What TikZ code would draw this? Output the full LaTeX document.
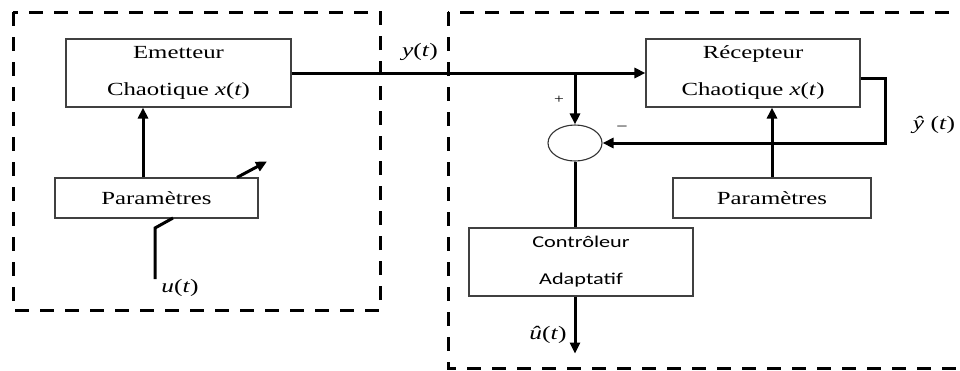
\documentclass[tikz,border=0pt]{standalone}
\usepackage{fontspec}
\setmainfont{Liberation Serif}[FakeStretch=1.34]
\newfontfamily\ctrlfont{Carlito}[FakeStretch=1.35]
\usetikzlibrary{arrows.meta,shapes.geometric}

\tikzset{
  blockbox/.style={draw=black!75, line width=1.1pt, align=center, inner sep=0pt,
    font=\fontsize{18.5}{37}\selectfont},
  sig/.style={line width=3pt, -{Triangle[length=11pt,width=10pt]}},
  wire/.style={line width=3pt},
  frame/.style={line width=3pt, dash pattern=on 14pt off 11pt},
  lbl/.style={inner sep=0pt, font=\fontsize{19}{20}\selectfont}
}
\newcommand{\vt}[1]{\textit{#1}(\textit{t})}

\begin{document}
\begin{tikzpicture}[x=1pt,y=-1pt]
        \useasboundingbox (0,0) rectangle (960,370);

        % Dashed frames (emitter / receiver)
        \draw[frame] (13,12) rectangle (380,310);
        \draw[frame] (448,12) rectangle (980,368);

        % Blocks
        \node[blockbox, minimum width=225pt, minimum height=68pt] (emit) at (178.5,73)
          {Emetteur\\Chaotique \vt{x}};
        \node[blockbox, minimum width=203pt, minimum height=40pt] (paramL) at (156.5,198)
          {Paramètres};
        \node[blockbox, minimum width=214pt, minimum height=68pt] (recv) at (753,73)
          {Récepteur\\Chaotique \vt{x}};
        \node[blockbox, minimum width=198pt, minimum height=40pt] (paramR) at (772,198)
          {Paramètres};
        \node[blockbox, minimum width=224pt, minimum height=68pt,
          font=\ctrlfont\fontsize{16.5}{37}\selectfont] (ctrl) at (581,262)
          {Contrôleur\\Adaptatif};
        \node[draw=black!80, line width=1.1pt, ellipse, minimum width=54pt,
          minimum height=36pt, inner sep=0pt] (sum) at (575,143) {};

        % Anchor points
        \coordinate (br)    at (575,73);
        \coordinate (fbk)   at (885,143);
        \coordinate (ubend) at (155,228);

        % Emitter side
        \draw[sig] ([xshift=-13.5pt]paramL.north) -- ([xshift=-35.5pt]emit.south);
        \draw[sig] ([xshift=80.5pt]paramL.north) -- ++(30,-16);
        \node[lbl] (uin) at (180,288) {\vt{u}};
        \draw[wire] (uin.north -| ubend) -- (ubend) -- ++(18,-10);

        % Transmitted signal
        \draw[sig] (emit.east) -- (recv.west);
        \node[lbl] (ylbl) at (420,52) {\vt{y}};

        % Receiver side
        \draw[sig] (br) -- (sum.north);
        \draw[sig] ([yshift=-5pt]recv.east) -| (fbk) -- (sum.east);
        \node[lbl] (yhat) at (934,125) {\textit{ŷ} (\textit{t})};
        \draw[sig] (paramR.north) -- (paramR.north |- recv.south);
        \draw[wire] (sum.south) -- (sum.south |- ctrl.north);
        \draw[sig] (ctrl.south -| sum) -- ++(0,57) coordinate (uout);
        \node[lbl] (uhat) at (548,335) {\textit{û}(\textit{t})};

        % Signs
        \node[inner sep=0pt, font=\fontsize{13}{14}\selectfont] (plus)  at (559,100) {+};
        \node[inner sep=0pt, font=\fontsize{15}{16}\selectfont] (minus) at (622,129) {−};
    \end{tikzpicture}
\end{document}
